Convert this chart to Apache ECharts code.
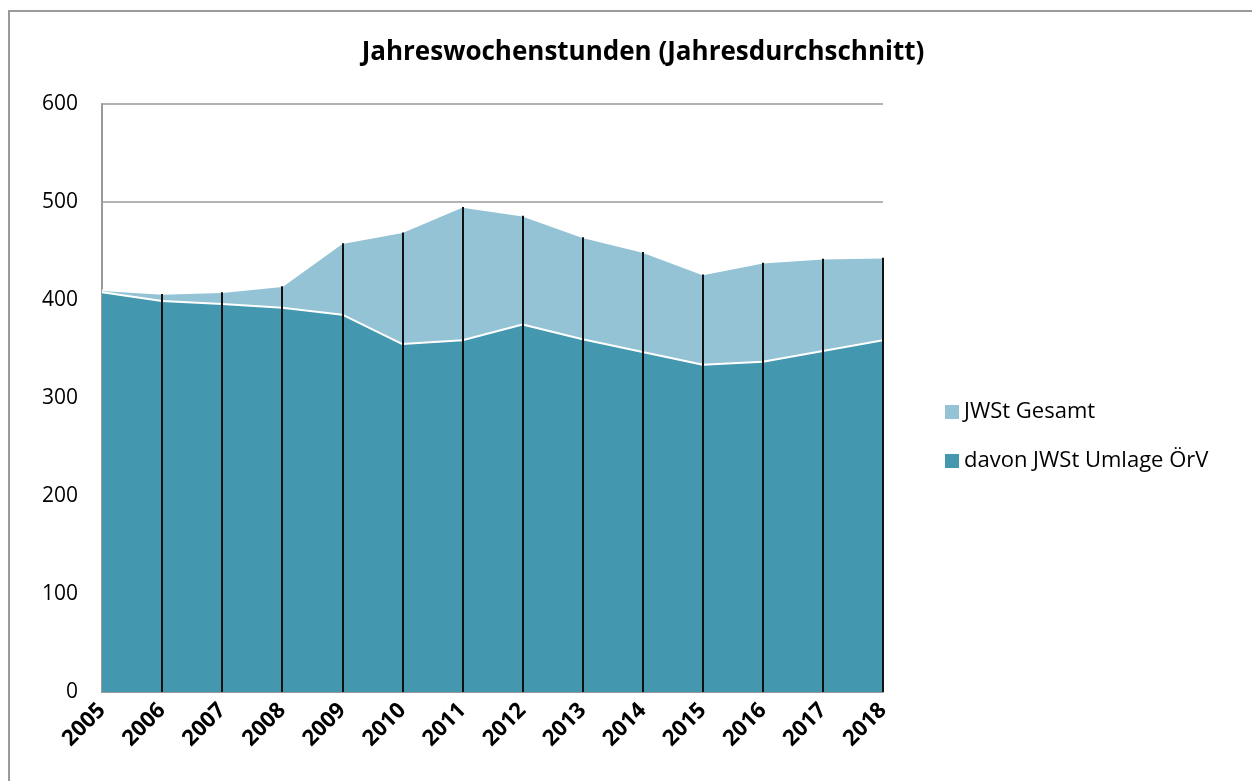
<!DOCTYPE html>
<html>
<head>
<meta charset="utf-8">
<script src="https://cdn.jsdelivr.net/npm/echarts@6/dist/echarts.min.js"></script>
<style>
  html, body { margin: 0; padding: 0; background: #fff; }
  #chart { width: 1252px; height: 781px; }
</style>
</head>
<body>
<div id="chart"></div>
<script>
// Jahre
const years = ['2005', '2006', '2007', '2008', '2009', '2010', '2011', '2012', '2013', '2014', '2015', '2016', '2017', '2018']
// JWSt Gesamt
const gesamt = [410, 406, 408, 414, 458, 469, 495, 486, 464, 449, 426, 438, 442, 443]
// davon JWSt Umlage ÖrV
const umlage = [408, 399, 396, 392, 385, 355, 359, 375, 360, 347, 334, 337, 348, 359]

const lightBlue = '#93c3d4'
const darkBlue = '#4397ae'
const font = '"Open Sans", sans-serif'

const chart = echarts.init(document.getElementById('chart'))

// senkrechte Linien von der Achse bis zum Gesamtwert
const dropLines = years.slice(1).map((y, i) => [
  { coord: [y, 0] },
  { coord: [y, gesamt[i + 1]] }
])

chart.setOption({
  backgroundColor: '#fff',
  animation: false,
  graphic: [{
    type: 'rect',
    shape: { x: 9, y: 11, width: 1260, height: 800 },
    style: { fill: 'none', stroke: '#9a9a9a', lineWidth: 2 },
    silent: true
  }],
  title: {
    text: 'Jahreswochenstunden (Jahresdurchschnitt)',
    left: 638,
    top: 35,
    textAlign: 'center',
    textStyle: { fontFamily: font, fontWeight: 'bold', fontSize: 26, color: '#000' }
  },
  legend: {
    orient: 'vertical',
    left: 940,
    top: 396,
    itemWidth: 14,
    itemHeight: 14,
    itemGap: 27,
    icon: 'rect',
    data: ['JWSt Gesamt', 'davon JWSt Umlage ÖrV'],
    textStyle: { fontFamily: font, fontSize: 22, color: '#000' }
  },
  grid: { left: 102, right: 369, top: 104, bottom: 89 },
  xAxis: {
    type: 'category',
    data: years,
    boundaryGap: false,
    axisLine: { lineStyle: { color: '#9a9a9a', width: 2 } },
    axisTick: { show: false },
    axisLabel: {
      rotate: 45,
      margin: 15,
      fontFamily: font,
      fontWeight: 'bold',
      fontSize: 22,
      color: '#000'
    }
  },
  yAxis: {
    type: 'value',
    min: 0,
    max: 600,
    interval: 100,
    axisLine: { show: true, lineStyle: { color: '#9a9a9a', width: 2 } },
    axisTick: { show: false },
    splitLine: { lineStyle: { color: '#9a9a9a', width: 1.5 } },
    axisLabel: { margin: 24, fontFamily: font, fontSize: 21, color: '#000' }
  },
  series: [
    {
      name: 'JWSt Gesamt',
      type: 'line',
      data: gesamt,
      symbol: 'none',
      z: 2,
      itemStyle: { color: lightBlue },
      lineStyle: { color: '#fff', width: 1.5 },
      areaStyle: { color: lightBlue, opacity: 1 },
      markLine: {
        silent: true,
        symbol: 'none',
        label: { show: false },
        lineStyle: { color: '#111', width: 2, type: 'solid' },
        data: dropLines,
        z: 10
      }
    },
    {
      name: 'davon JWSt Umlage ÖrV',
      type: 'line',
      data: umlage,
      symbol: 'none',
      z: 3,
      itemStyle: { color: darkBlue },
      lineStyle: { color: '#fff', width: 2 },
      areaStyle: { color: darkBlue, opacity: 1 }
    }
  ]
})

window.addEventListener('resize', () => {
  chart.resize()
})
</script>
</body>
</html>
